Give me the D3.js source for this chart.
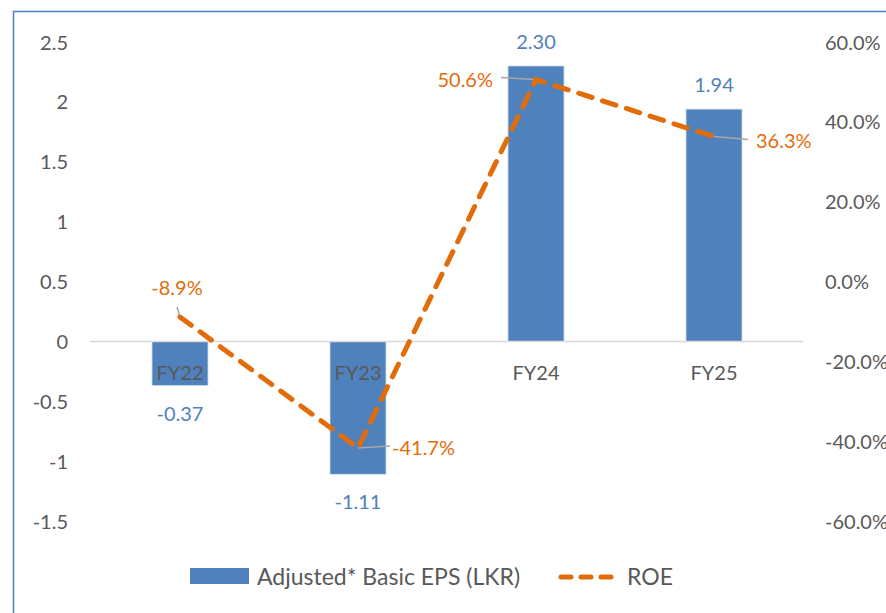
<!DOCTYPE html>
<html>
<head>
<meta charset="utf-8">
<script src="https://cdn.jsdelivr.net/npm/d3@7"></script>
<style>
  body { margin: 0; background: #fff; }
  text { font-family: Lato, "Open Sans", sans-serif; }
</style>
</head>
<body>
<svg id="chart"></svg>
<script>
const outerWidth = 886;
const outerHeight = 613;

const categories = ["FY22", "FY23", "FY24", "FY25"];
const eps = [-0.37, -1.11, 2.30, 1.94];
const roe = [-8.9, -41.7, 50.6, 36.3];
const epsTicks = [2.5, 2, 1.5, 1, 0.5, 0, -0.5, -1, -1.5];
const roeTicks = [60, 40, 20, 0, -20, -40, -60];

const blue = "#4f81bd";
const orange = "#e36c0a";
const grey = "#595959";

// plain hyphen for negatives, like the original
const locale = d3.formatLocale({decimal: ".", thousands: ",", grouping: [3], currency: ["", ""], minus: "-"});
const fmtPlain = locale.format("");
const fmt2 = locale.format(".2f");
const fmt1 = locale.format(".1f");

var svg = d3.select("#chart")
  .attr("width", outerWidth)
  .attr("height", outerHeight);

// chart border
svg.append("rect")
  .attr("x", 13.5).attr("y", 11.5)
  .attr("width", 900).attr("height", 700)
  .style("fill", "none").style("stroke", blue).style("stroke-width", 1.5);

var x = d3.scaleBand().domain(categories).range([91, 803]).paddingInner(0.685).paddingOuter(0.3425);
var y = d3.scaleLinear().domain([-1.5, 2.5]).range([521, 42]);
var y2 = d3.scaleLinear().domain([-60, 60]).range([521, 42]);

// left axis
var yAxis = d3.axisLeft(y).tickValues(epsTicks).tickSize(0).tickPadding(0)
  .tickFormat(d => fmtPlain(d));
var gy = svg.append("g").attr("transform", "translate(68,0)").call(yAxis);
gy.select(".domain").remove();
gy.selectAll("text").style("font-size", "20px").style("fill", grey).attr("dy", "0.35em");

// right axis
var y2Axis = d3.axisRight(y2).tickValues(roeTicks).tickSize(0).tickPadding(0)
  .tickFormat(d => fmt1(d) + "%");
var gy2 = svg.append("g").attr("transform", "translate(825,0)").call(y2Axis);
gy2.select(".domain").remove();
gy2.selectAll("text").style("font-size", "20px").style("fill", grey).attr("dy", "0.35em");

// bars
svg.append("g").selectAll("rect")
  .data(eps)
  .enter()
  .append("rect")
  .attr("x", (d, i) => x(categories[i]))
  .attr("width", x.bandwidth())
  .attr("y", d => y(Math.max(0, d)))
  .attr("height", d => Math.abs(y(d) - y(0)))
  .style("fill", blue).style("stroke", "#dbe5f1").style("stroke-width", 0.8);

// zero line
svg.append("line")
  .attr("x1", 90).attr("x2", 803)
  .attr("y1", y(0)).attr("y2", y(0))
  .style("stroke", "#d9d9d9").style("stroke-width", 1.5);

// category labels
svg.append("g").selectAll("text")
  .data(categories)
  .enter()
  .append("text")
  .attr("x", d => x(d) + x.bandwidth() / 2)
  .attr("y", y(0) + 39)
  .attr("text-anchor", "middle")
  .style("font-size", "20px").style("fill", grey)
  .text(d => d);

// eps labels
svg.append("g").selectAll("text")
  .data(eps)
  .enter()
  .append("text")
  .attr("x", (d, i) => x(categories[i]) + x.bandwidth() / 2)
  .attr("y", d => d >= 0 ? y(d) - 17 : y(d) + 35)
  .attr("text-anchor", "middle")
  .style("font-size", "20px").style("fill", blue)
  .text(d => fmt2(d));

// roe line
var cx = (d, i) => x(categories[i]) + x.bandwidth() / 2;
var line = d3.line().x(cx).y(d => y2(d));

// leader lines and labels for roe
const labelOffsets = [
  {dx: -3, dy: -22, anchor: "middle", lx: [0, -3], ly: [0, -10]},
  {dx: 34, dy: 7, anchor: "start", lx: [0, 32], ly: [0, -2]},
  {dx: -43, dy: 7, anchor: "end", lx: [0, -35], ly: [0, -2]},
  {dx: 42, dy: 11, anchor: "start", lx: [0, 34], ly: [0, 3]}
];

svg.append("g").selectAll("path")
  .data(roe)
  .enter()
  .append("path")
  .attr("d", (d, i) => {
    var o = labelOffsets[i], px = cx(d, i), py = y2(d);
    return "M" + (px + o.lx[0]) + "," + (py + o.ly[0]) + "L" + (px + o.lx[1]) + "," + (py + o.ly[1]);
  })
  .style("fill", "none").style("stroke", "#a6a6a6").style("stroke-width", 1.5);

svg.append("path")
  .datum(roe)
  .attr("d", line)
  .style("fill", "none").style("stroke", orange)
  .style("stroke-width", 5).style("stroke-dasharray", "14,11")
  .style("stroke-linecap", "round");

svg.append("g").selectAll("text")
  .data(roe)
  .enter()
  .append("text")
  .attr("x", (d, i) => cx(d, i) + labelOffsets[i].dx)
  .attr("y", d => y2(d))
  .attr("dy", (d, i) => labelOffsets[i].dy)
  .attr("text-anchor", (d, i) => labelOffsets[i].anchor)
  .style("font-size", "20px").style("fill", orange)
  .text(d => fmt1(d) + "%");

// legend
var legend = svg.append("g");
legend.append("rect")
  .attr("x", 190).attr("y", 568).attr("width", 59).attr("height", 16)
  .style("fill", blue);
legend.append("text")
  .attr("x", 257).attr("y", 585)
  .style("font-size", "23px").style("fill", grey)
  .text("Adjusted* Basic EPS (LKR)");
legend.append("line")
  .attr("x1", 561).attr("x2", 613).attr("y1", 577).attr("y2", 577)
  .style("stroke", orange).style("stroke-width", 5)
  .style("stroke-dasharray", "10,10").style("stroke-linecap", "round");
legend.append("text")
  .attr("x", 627).attr("y", 585)
  .style("font-size", "23px").style("fill", grey)
  .text("ROE");
</script>
</body>
</html>
